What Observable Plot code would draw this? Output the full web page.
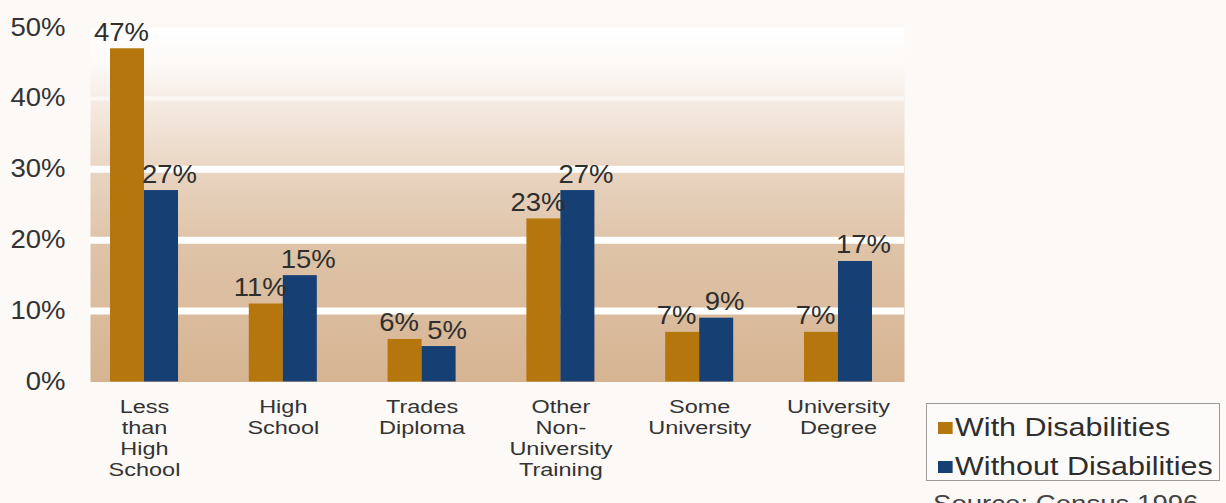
<!DOCTYPE html>
<html>
<head>
<meta charset="utf-8">
<script src="https://cdn.jsdelivr.net/npm/d3@7"></script>
<script src="https://cdn.jsdelivr.net/npm/@observablehq/plot@0.6"></script>
<style>
  html, body { margin: 0; padding: 0; background: #fcf9f6; overflow: hidden; }
  #wrap { position: relative; width: 1226px; height: 503px; font-family: "Liberation Sans", Arial, sans-serif; color: #2e2e2e; }
  #chart svg { display: block; }
  .stretch { display: inline-block; transform: scaleX(1.22); transform-origin: left center; white-space: nowrap; }
  #legend { position: absolute; left: 926px; top: 403px; width: 294px; height: 78px; border: 1px solid #9a9a9a; background: #fdfbf9; box-sizing: border-box; }
  .item { position: absolute; left: 11px; height: 30px; line-height: 30px; font-size: 25px; }
  .sw { display: inline-block; width: 12px; height: 12px; margin-right: 2px; vertical-align: 2px; }
  #caption { position: absolute; left: 933px; top: 490px; font-size: 24px; color: #444; }
</style>
</head>
<body>
<div id="wrap">
  <div id="chart"></div>
  <div id="legend"></div>
  <div id="caption"></div>
</div>
<script>
// ---- data ----
const categories = ["Less than High School", "High School", "Trades Diploma", "Other Non-University Training", "Some University", "University Degree"];
const categoryLabels = ["Less\nthan\nHigh\nSchool", "High\nSchool", "Trades\nDiploma", "Other\nNon-\nUniversity\nTraining", "Some\nUniversity", "University\nDegree"];
const withDisabilities = [47, 11, 6, 23, 7, 7];
const withoutDisabilities = [27, 15, 5, 27, 9, 17];
const seriesNames = ["With Disabilities", "Without Disabilities"];
const seriesColors = ["#b5770d", "#163f73"];
const yTicks = [0, 10, 20, 30, 40, 50];
const gridValues = [10, 20, 30];
const captionText = "Source: Census 1996";

const rowsWith = categories.map((c, i) => ({cat: c, value: withDisabilities[i]}));
const rowsWithout = categories.map((c, i) => ({cat: c, value: withoutDisabilities[i]}));
const labelRows = categories.map((c, i) => ({cat: c, label: categoryLabels[i]}));

const half = 34;

const chart = Plot.plot({
  width: 1226,
  height: 503,
  marginTop: 27,
  marginBottom: 121.5,
  marginLeft: 90,
  marginRight: 322,
  style: {fontSize: "25px", fontFamily: "'Liberation Sans', Arial, sans-serif", color: "#333", background: "transparent"},
  x: {type: "band", domain: categories, range: [110, 872], paddingInner: 0.51, paddingOuter: 0, round: false, axis: null},
  y: {domain: [0, 50], ticks: yTicks, tickFormat: d => d + "%", tickSize: 0, tickPadding: 25, label: null},
  marks: [
    Plot.frame({fill: "url(#bgGrad)", stroke: "none"}),
    Plot.ruleY(gridValues, {stroke: "#ffffff", strokeWidth: 7}),
    Plot.ruleY([40], {stroke: "#ffffff", strokeWidth: 4, strokeOpacity: 0.6}),
    Plot.barY(rowsWith, {x: "cat", y: "value", fill: seriesColors[0], insetRight: half}),
    Plot.barY(rowsWithout, {x: "cat", y: "value", fill: seriesColors[1], insetLeft: half}),
    Plot.text(rowsWith, {x: "cat", y: "value", text: d => d.value + "%", dx: -half / 2 - 6, dy: -8, lineAnchor: "bottom", fontSize: 25, fill: "#2e2e2e"}),
    Plot.text(rowsWithout, {x: "cat", y: "value", text: d => d.value + "%", dx: half / 2 + 8, dy: -8, lineAnchor: "bottom", fontSize: 25, fill: "#2e2e2e"}),
    Plot.text(labelRows, {x: "cat", y: 0, text: "label", dy: 16, lineAnchor: "top", lineHeight: 1.14, fontSize: 18.5, fill: "#333"})
  ]
});

document.getElementById("chart").appendChild(chart);

// gradient definition for plot background
const ns = "http://www.w3.org/2000/svg";
const defs = document.createElementNS(ns, "defs");
const grad = document.createElementNS(ns, "linearGradient");
grad.setAttribute("id", "bgGrad");
grad.setAttribute("x1", "0"); grad.setAttribute("y1", "0");
grad.setAttribute("x2", "0"); grad.setAttribute("y2", "1");
[[0, "#ffffff"], [0.1, "#fdfaf8"], [0.2, "#f6ece4"], [0.4, "#e9d5c2"], [0.6, "#dfc4a9"], [1, "#d6b492"]].forEach(([o, c]) => {
  const s = document.createElementNS(ns, "stop");
  s.setAttribute("offset", o);
  s.setAttribute("stop-color", c);
  grad.appendChild(s);
});
defs.appendChild(grad);
chart.insertBefore(defs, chart.firstChild);

// horizontally stretched lettering, as in the reference (scale about each text's anchor point)
chart.querySelectorAll("text").forEach(t => {
  const fs = parseFloat(getComputedStyle(t).fontSize);
  const k = fs >= 24 ? 1.1 : 1.27;
  const x = parseFloat(t.getAttribute("x")) || 0;
  const prev = t.getAttribute("transform") || "";
  t.setAttribute("transform", `${prev} translate(${x},0) scale(${k},1) translate(${-x},0)`.trim());
});

// legend
const legend = document.getElementById("legend");
seriesNames.forEach((name, i) => {
  const item = document.createElement("div");
  item.className = "item";
  item.style.top = (8 + i * 39) + "px";
  const inner = document.createElement("span");
  inner.className = "stretch";
  const sw = document.createElement("span");
  sw.className = "sw";
  sw.style.background = seriesColors[i];
  inner.appendChild(sw);
  inner.appendChild(document.createTextNode(name));
  item.appendChild(inner);
  legend.appendChild(item);
});

const cap = document.getElementById("caption");
const capSpan = document.createElement("span");
capSpan.className = "stretch";
capSpan.style.transform = "scaleX(1.15)";
capSpan.textContent = captionText;
cap.appendChild(capSpan);
</script>
</body>
</html>
